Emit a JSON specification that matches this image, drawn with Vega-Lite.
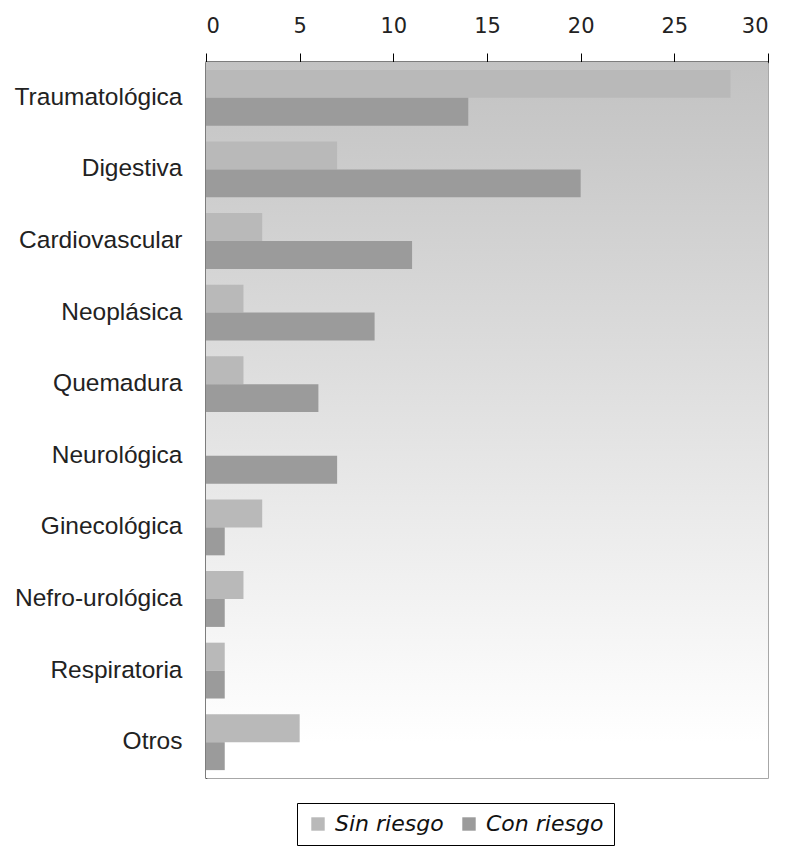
{
  "$schema": "https://vega.github.io/schema/vega-lite/v6.json",
  "width": 562,
  "height": 716,
  "autosize": "none",
  "padding": {"left": 206, "top": 62, "right": 17, "bottom": 73},
  "background": "white",
  "data": {
    "values": [
      {"categoria": "Traumatológica", "serie": "Sin riesgo", "valor": 28},
      {"categoria": "Traumatológica", "serie": "Con riesgo", "valor": 14},
      {"categoria": "Digestiva", "serie": "Sin riesgo", "valor": 7},
      {"categoria": "Digestiva", "serie": "Con riesgo", "valor": 20},
      {"categoria": "Cardiovascular", "serie": "Sin riesgo", "valor": 3},
      {"categoria": "Cardiovascular", "serie": "Con riesgo", "valor": 11},
      {"categoria": "Neoplásica", "serie": "Sin riesgo", "valor": 2},
      {"categoria": "Neoplásica", "serie": "Con riesgo", "valor": 9},
      {"categoria": "Quemadura", "serie": "Sin riesgo", "valor": 2},
      {"categoria": "Quemadura", "serie": "Con riesgo", "valor": 6},
      {"categoria": "Neurológica", "serie": "Sin riesgo", "valor": 0},
      {"categoria": "Neurológica", "serie": "Con riesgo", "valor": 7},
      {"categoria": "Ginecológica", "serie": "Sin riesgo", "valor": 3},
      {"categoria": "Ginecológica", "serie": "Con riesgo", "valor": 1},
      {"categoria": "Nefro-urológica", "serie": "Sin riesgo", "valor": 2},
      {"categoria": "Nefro-urológica", "serie": "Con riesgo", "valor": 1},
      {"categoria": "Respiratoria", "serie": "Sin riesgo", "valor": 1},
      {"categoria": "Respiratoria", "serie": "Con riesgo", "valor": 1},
      {"categoria": "Otros", "serie": "Sin riesgo", "valor": 5},
      {"categoria": "Otros", "serie": "Con riesgo", "valor": 1}
    ]
  },
  "layer": [
    {
      "mark": {
        "type": "rect",
        "color": {
          "gradient": "linear",
          "x1": 0, "y1": 0, "x2": 0, "y2": 1,
          "stops": [
            {"offset": 0, "color": "#c2c2c2"},
            {"offset": 0.5, "color": "#e2e2e2"},
            {"offset": 0.95, "color": "#ffffff"}
          ]
        }
      },
      "encoding": {
        "x": {"datum": 0, "type": "quantitative"},
        "x2": {"datum": 30}
      }
    },
    {
      "mark": {"type": "bar"},
      "encoding": {
        "y": {
          "field": "categoria",
          "type": "nominal",
          "sort": null,
          "scale": {"paddingInner": 0.22, "paddingOuter": 0.11},
          "axis": {
            "title": null,
            "ticks": false,
            "labelPadding": 24,
            "labelFontSize": 24.5,
            "labelFont": "Liberation Sans",
            "labelColor": "#222222",
            "domainColor": "#000000",
            "domainWidth": 1.5
          }
        },
        "x": {
          "field": "valor",
          "type": "quantitative",
          "scale": {"domain": [0, 30], "nice": false},
          "axis": {
            "orient": "top",
            "title": null,
            "values": [0, 5, 10, 15, 20, 25, 30],
            "grid": false,
            "tickSize": 9,
            "tickColor": "#000000",
            "domainColor": "#000000",
            "domainWidth": 1.5,
            "labelPadding": 17,
            "labelFontSize": 21,
            "labelFont": "DejaVu Sans",
            "labelColor": "#222222"
          }
        },
        "yOffset": {
          "field": "serie",
          "sort": ["Sin riesgo", "Con riesgo"]
        },
        "color": {
          "field": "serie",
          "type": "nominal",
          "scale": {
            "domain": ["Sin riesgo", "Con riesgo"],
            "range": ["#b9b9b9", "#9b9b9b"]
          },
          "legend": {
            "title": null,
            "orient": "none",
            "direction": "horizontal",
            "legendX": 91,
            "legendY": 741,
            "padding": 10,
            "strokeColor": "#000000",
            "fillColor": "#ffffff",
            "symbolType": "square",
            "symbolSize": 180,
            "symbolStrokeWidth": 0,
            "symbolOpacity": 1,
            "labelFont": "DejaVu Sans",
            "labelFontStyle": "italic",
            "labelFontSize": 22,
            "labelColor": "#111111",
            "labelOffset": 6,
            "columnPadding": 14
          }
        }
      }
    }
  ],
  "config": {
    "view": {"stroke": "#8a8a8a", "strokeWidth": 1.5}
  }
}
